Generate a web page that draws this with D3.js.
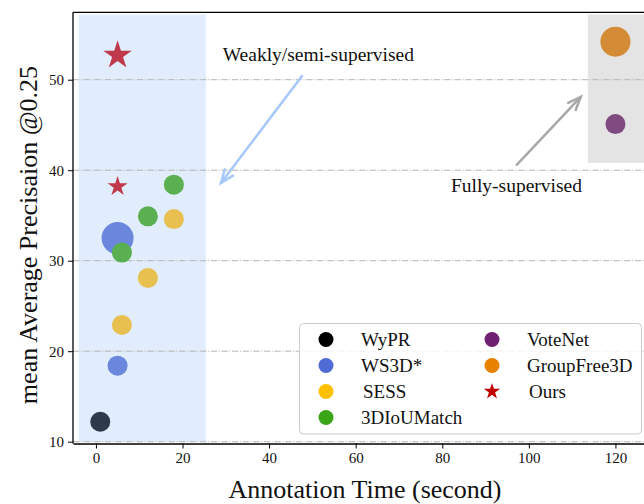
<!DOCTYPE html>
<html>
<head>
<meta charset="utf-8">
<script src="https://cdn.jsdelivr.net/npm/d3@7"></script>
<style>
  body { margin: 0; background: #fff; }
  svg { display: block; }
  svg text { font-family: "Liberation Serif", "DejaVu Serif", serif; }
</style>
</head>
<body>
<div id="chart"></div>
<script>
// Data: [annotation time (s), mAP@0.25]
const methods = ['WyPR', 'WS3D*', 'SESS', '3DIoUMatch', 'VoteNet', 'GroupFree3D', 'Ours'];
const wyprPts = [[1, 12.2]];
const ws3dPts = [[5, 32.5], [5, 18.4]];
const sessPts = [[18, 34.6], [12, 28.1], [6, 22.9]];
const iouMatchPts = [[18, 38.4], [12, 34.9], [6, 30.9]];
const voteNetPts = [[120, 45.1]];
const groupFreePts = [[120, 54.2]];
const oursPts = [[5, 52.7], [5, 38.2]];
const xTicks = [0, 20, 40, 60, 80, 100, 120];
const yTicks = [10, 20, 30, 40, 50];
const weakRegion = [[-4, 25.4], [10, 57.2]];
const fullRegion = [[113.6, 130], [40.8, 57.2]];

const W = 644, H = 504;
const m = { left: 73, right: 0, top: 12.3, bottom: 60.5 };
const FONT = '"Liberation Serif", "DejaVu Serif", serif';

const svg = d3.select('#chart').append('svg')
  .attr('width', W)
  .attr('height', H);

const x = d3.scaleLinear().domain([-5.3, 126.6]).range([m.left, W - m.right]);
const y = d3.scaleLinear().domain([9.8, 57.45]).range([H - m.bottom, m.top]);

const clip = svg.append('defs').append('clipPath').attr('id', 'plot');
clip.append('rect')
  .attr('x', m.left).attr('y', m.top)
  .attr('width', W - m.left).attr('height', H - m.bottom - m.top);

const plot = svg.append('g').attr('clip-path', 'url(#plot)');

// shaded regions
plot.append('rect')
  .attr('x', x(weakRegion[0][0]))
  .attr('y', y(weakRegion[1][1]))
  .attr('width', x(weakRegion[0][1]) - x(weakRegion[0][0]))
  .attr('height', y(weakRegion[1][0]) - y(weakRegion[1][1]))
  .attr('fill', '#e1ecfc');

plot.append('rect')
  .attr('x', x(fullRegion[0][0]))
  .attr('y', y(fullRegion[1][1]))
  .attr('width', x(fullRegion[0][1]) - x(fullRegion[0][0]))
  .attr('height', y(fullRegion[1][0]) - y(fullRegion[1][1]))
  .attr('fill', '#e4e4e4');

// dash-dot grid
plot.selectAll('line.grid').data(yTicks).join('line')
  .attr('class', 'grid')
  .attr('x1', m.left).attr('x2', W)
  .attr('y1', d => y(d)).attr('y2', d => y(d))
  .attr('stroke', '#b4b4b4')
  .attr('stroke-width', 1)
  .attr('stroke-dasharray', '6.4,1.6,1,1.6');

// points
const series = [
  { pts: wyprPts, color: '#2e3a4a', r: [10] },
  { pts: ws3dPts, color: '#6a86dd', r: [16, 10] },
  { pts: sessPts, color: '#e8c050', r: [10, 10, 10] },
  { pts: iouMatchPts, color: '#5aaf50', r: [10, 10, 10] },
  { pts: voteNetPts, color: '#7e4a80', r: [10] },
  { pts: groupFreePts, color: '#d48b35', r: [15] }
];

series.forEach(s => {
  plot.append('g').selectAll('circle').data(s.pts).join('circle')
    .attr('cx', d => x(d[0]))
    .attr('cy', d => y(d[1]))
    .attr('r', (d, i) => s.r[i])
    .attr('fill', s.color);
});

const starR = [15, 10.5];
plot.append('g').selectAll('path').data(oursPts).join('path')
  .attr('transform', d => `translate(${x(d[0])},${y(d[1])})`)
  .attr('d', (d, i) => d3.symbol(d3.symbolStar, starR[i] * starR[i] / 0.8908)())
  .attr('fill', '#c0384b');

// annotations
function arrow(x1, y1, x2, y2, color) {
  const g = plot.append('g').attr('stroke', color).attr('stroke-width', 2.5)
    .attr('fill', 'none').attr('stroke-linecap', 'round');
  const ax1 = x(x1), ay1 = y(y1), ax2 = x(x2), ay2 = y(y2);
  g.append('line').attr('x1', ax1).attr('y1', ay1).attr('x2', ax2).attr('y2', ay2);
  const ang = Math.atan2(ay2 - ay1, ax2 - ax1);
  const hl = 14, ha = 0.38;
  g.append('path')
    .attr('stroke-linejoin', 'miter')
    .attr('d', `M${ax2 - hl * Math.cos(ang - ha)},${ay2 - hl * Math.sin(ang - ha)}` +
      `L${ax2},${ay2}L${ax2 - hl * Math.cos(ang + ha)},${ay2 - hl * Math.sin(ang + ha)}`);
}
arrow(47.6, 50.4, 28.9, 38.6, '#a6c8fa');
arrow(97.2, 40.6, 112, 48.1, '#a8a8a8');

svg.append('text')
  .attr('x', x(29.3)).attr('y', y(52.05))
  .attr('font-family', FONT)
  .attr('font-size', 19.5).attr('fill', '#111')
  .text('Weakly/semi-supervised');

svg.append('text')
  .attr('x', x(82)).attr('y', y(37.6))
  .attr('font-family', FONT)
  .attr('font-size', 19.5).attr('fill', '#111')
  .text('Fully-supervised');

// spines
svg.append('line').attr('x1', m.left).attr('x2', W).attr('y1', m.top).attr('y2', m.top)
  .attr('stroke', '#000').attr('stroke-width', 1.3);

const xAxis = svg.append('g')
  .attr('transform', `translate(0,${H - m.bottom})`)
  .call(d3.axisBottom(x).tickValues(xTicks).tickSize(5).tickPadding(4).tickSizeOuter(0));
const yAxis = svg.append('g')
  .attr('transform', `translate(${m.left},0)`)
  .call(d3.axisLeft(y).tickValues(yTicks).tickSize(5).tickPadding(4).tickSizeOuter(0));

[xAxis, yAxis].forEach(a => {
  a.attr('font-family', FONT);
  a.select('.domain').attr('stroke', '#000').attr('stroke-width', 1.3);
  a.selectAll('.tick line').attr('stroke', '#000').attr('stroke-width', 1);
  a.selectAll('.tick text')
    .attr('font-family', FONT)
    .attr('font-size', 15).attr('fill', '#111');
});
yAxis.select('.domain').attr('d', `M0,${m.top}V${H - m.bottom}`);

// axis titles
svg.append('text')
  .attr('x', 365).attr('y', 498)
  .attr('text-anchor', 'middle')
  .attr('font-family', FONT)
  .attr('font-size', 26).attr('fill', '#111')
  .text('Annotation Time (second)');

svg.append('text')
  .attr('transform', 'translate(37,235) rotate(-90)')
  .attr('text-anchor', 'middle')
  .attr('font-family', FONT)
  .attr('font-size', 26).attr('fill', '#111')
  .text('mean Average Precisaion @0.25');

// legend
const legendColors = ['#000000', '#4f6bd6', '#ffc000', '#3aa517', '#702070', '#e88000', '#c00000'];
const legend = svg.append('g');
legend.append('rect')
  .attr('x', 299.5).attr('y', 323.5).attr('width', 342).attr('height', 110.5)
  .attr('rx', 4)
  .attr('fill', '#fff').attr('fill-opacity', 0.82)
  .attr('stroke', '#cccccc').attr('stroke-width', 1);

const items = legend.selectAll('g.item').data(methods).join('g')
  .attr('class', 'item')
  .attr('transform', (d, i) => {
    const col = i < 4 ? 0 : 1;
    const row = i < 4 ? i : i - 4;
    return `translate(${col ? 492 : 326},${339.5 + row * 26})`;
  });

items.each(function (d, i) {
  const g = d3.select(this);
  if (d === 'Ours') {
    g.append('path')
      .attr('d', d3.symbol(d3.symbolStar, 8.5 * 8.5 / 0.8908)())
      .attr('fill', legendColors[i]);
  } else {
    g.append('circle').attr('r', 7.5).attr('fill', legendColors[i]);
  }
  g.append('text')
    .attr('x', i === 2 || i === 6 ? 37 : 35).attr('y', 6.5)
    .attr('font-family', FONT)
    .attr('font-size', 19).attr('fill', '#111')
    .text(d);
});
</script>
</body>
</html>
